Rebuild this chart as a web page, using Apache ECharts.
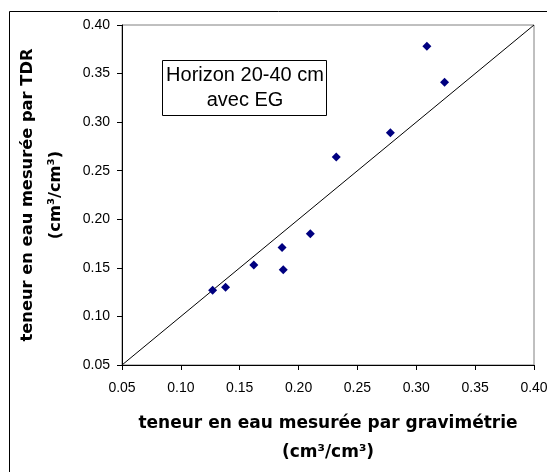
<!DOCTYPE html>
<html>
<head>
<meta charset="utf-8">
<script src="https://cdn.jsdelivr.net/npm/echarts@6/dist/echarts.min.js"></script>
<style>
html,body{margin:0;padding:0;background:#fff;}
#main{width:547px;height:472px;}
</style>
</head>
<body>
<div id="main"></div>
<script>
// Data
var gravimetrie = [0.127, 0.138, 0.162, 0.186, 0.187, 0.210, 0.232, 0.278, 0.309, 0.324];
var tdr         = [0.127, 0.130, 0.153, 0.171, 0.148, 0.185, 0.264, 0.289, 0.378, 0.341];
var lineX = [0.05, 0.40];
var lineY = [0.05, 0.40];
var xTitle = 'teneur en eau mesurée par gravimétrie\n(cm³/cm³)';
var yTitle = 'teneur en eau mesurée par TDR\n(cm³/cm³)';
var boxLines = ['Horizon 20-40 cm', 'avec EG'];

var pts = gravimetrie.map(function (x, i) { return [x, tdr[i]]; });
var diag = lineX.map(function (x, i) { return [x, lineY[i]]; });

var chart = echarts.init(document.getElementById('main'), null, {renderer: 'canvas'});
var labelFont = {color: '#000', fontFamily: 'Liberation Sans, Arial, sans-serif', fontSize: 14};
var xTitleFont = {color: '#000', fontFamily: 'DejaVu Sans, sans-serif', fontSize: 17, fontWeight: 'bold', lineHeight: 29};
var yTitleFont = {color: '#000', fontFamily: 'DejaVu Sans, sans-serif', fontSize: 16.3, fontWeight: 'bold', lineHeight: 28};

chart.setOption({
  animation: false,
  backgroundColor: '#fff',
  grid: {left: 122, right: 13, top: 25, bottom: 107, containLabel: false, outerBoundsMode: 'none',
         show: true, borderColor: '#808080', borderWidth: 1, backgroundColor: 'transparent'},
  xAxis: {
    type: 'value', min: 0.05, max: 0.40, interval: 0.05,
    name: xTitle, nameLocation: 'middle', nameGap: 44,
    nameTextStyle: xTitleFont,
    axisLine: {show: true, onZero: false, lineStyle: {color: '#000', width: 1}},
    axisTick: {show: true, inside: false, length: 5, lineStyle: {color: '#000'}},
    splitLine: {show: false},
    axisLabel: Object.assign({margin: 16, hideOverlap: false, showMaxLabel: true, formatter: function (v) { return v.toFixed(2); }}, labelFont)
  },
  yAxis: {
    type: 'value', min: 0.05, max: 0.40, interval: 0.05,
    name: yTitle, nameLocation: 'middle', nameGap: 52,
    nameTextStyle: yTitleFont,
    axisLine: {show: true, onZero: false, lineStyle: {color: '#000', width: 1}},
    axisTick: {show: true, inside: false, length: 5, lineStyle: {color: '#000'}},
    splitLine: {show: false},
    axisLabel: Object.assign({margin: 12, formatter: function (v) { return v.toFixed(2); }}, labelFont)
  },
  series: [
    {
      type: 'line', data: diag, showSymbol: false, symbol: 'none',
      lineStyle: {color: '#000', width: 1}, z: 2, silent: true
    },
    {
      type: 'scatter', data: pts, symbol: 'diamond', symbolSize: 9,
      itemStyle: {color: '#000080', opacity: 1}, z: 3
    }
  ],
  graphic: [
    {type: 'rect', shape: {x: 9.5, y: 11.5, width: 600, height: 600}, style: {fill: 'none', stroke: '#000', lineWidth: 1}, silent: true, z: 10},
    {type: 'rect', shape: {x: 162.5, y: 60.5, width: 164, height: 55}, style: {fill: '#fff', stroke: '#000', lineWidth: 1}, z: 10},
    {type: 'text', x: 245, y: 75.5, style: {text: boxLines[0], fill: '#000', font: '20px "Liberation Sans", Arial, sans-serif', textAlign: 'center', textVerticalAlign: 'middle'}, z: 11},
    {type: 'text', x: 245, y: 100.5, style: {text: boxLines[1], fill: '#000', font: '20px "Liberation Sans", Arial, sans-serif', textAlign: 'center', textVerticalAlign: 'middle'}, z: 11}
  ]
});
</script>
</body>
</html>
